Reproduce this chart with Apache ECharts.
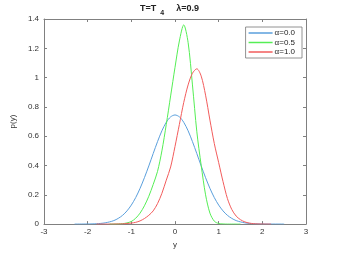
<!DOCTYPE html>
<html><head><meta charset="utf-8">
<script src="https://cdn.jsdelivr.net/npm/echarts@6/dist/echarts.min.js"></script>
<style>html,body{margin:0;padding:0;background:#fff}#c{width:339px;height:254px}</style>
</head><body><div id="c"></div>
<script>
var seriesNames = ['α=0.0', 'α=0.5', 'α=1.0'];
var xTicks = [-3, -2, -1, 0, 1, 2, 3];
var yTicks = [0, 0.2, 0.4, 0.6, 0.8, 1, 1.2, 1.4];

var blueX = [-2.3,-2.0,-1.9,-1.8,-1.7,-1.6,-1.5,-1.4,-1.3,-1.2,-1.1,-1.0,-0.9,-0.8,-0.7,-0.6,-0.5,-0.4,-0.3,-0.2,-0.1,0,
  0.1,0.2,0.3,0.4,0.5,0.6,0.7,0.8,0.9,1.0,1.1,1.2,1.3,1.4,1.5,1.6,1.7,1.8,1.9,2.0,2.5];
var blueY = [0,0.0007,0.0014,0.0026,0.0048,0.0085,0.015,0.024,0.039,0.060,0.090,0.130,0.181,0.244,0.317,0.397,0.481,0.563,0.637,0.695,0.732,0.745,
  0.732,0.695,0.637,0.563,0.481,0.397,0.317,0.244,0.181,0.130,0.090,0.060,0.039,0.024,0.015,0.0085,0.0048,0.0026,0.0014,0.0007,0];

var greenX = [-1.5,-1.4,-1.3,-1.2,-1.1,-1.0,-0.9,-0.8,-0.7,-0.6,-0.5,-0.4,-0.3,-0.2,-0.1,0,
  0.1,0.2,0.3,0.4,0.5,0.6,0.7,0.8,0.9,1.0,1.1,1.2,1.3,1.4,1.5];
var greenY = [0,0,0.001,0.003,0.008,0.018,0.04,0.075,0.125,0.19,0.27,0.36,0.50,0.68,0.875,1.07,
  1.25,1.36,1.24,0.95,0.63,0.40,0.20,0.075,0.02,0.004,0.001,0,0,0,0];

var redX = [-1.8,-1.7,-1.6,-1.5,-1.4,-1.3,-1.2,-1.1,-1.0,-0.9,-0.8,-0.7,-0.6,-0.5,-0.4,-0.3,-0.2,-0.1,0,
  0.1,0.2,0.3,0.4,0.5,0.6,0.7,0.8,0.9,1.0,1.1,1.2,1.3,1.4,1.5,1.6,1.7,1.8,1.9,2.0,2.1,2.2];
var redY = [0,0,0,0,0.0005,0.001,0.002,0.004,0.007,0.012,0.022,0.038,0.06,0.09,0.14,0.21,0.30,0.39,0.53,
  0.68,0.83,0.95,1.03,1.06,1.01,0.88,0.71,0.55,0.42,0.29,0.175,0.10,0.055,0.03,0.015,0.007,0.003,0.001,0.0005,0,0];

var colors = ['#5a9fdc', '#55ee55', '#f25c5c'];

function pairs(xs, ys) { return xs.map(function (x, i) { return [x, ys[i]]; }); }

var axisCol = '#808080';
var txtCol = '#333';
var font = 'Liberation Sans, Arial, sans-serif';

var chart = echarts.init(document.getElementById('c'), null, {renderer: 'canvas'});
chart.setOption({
  animation: false,
  textStyle: {fontFamily: font},
  title: {
    text: '{a|T=T}{s|4}{a|λ=0.9}',
    left: 'center', top: 0, padding: 0,
    textStyle: {
      rich: {
        a: {fontSize: 9, fontWeight: 'bold', color: '#222', fontFamily: font},
        s: {fontSize: 7, fontWeight: 'bold', color: '#222', fontFamily: font, padding: [10, 12, 0, 4]}
      }
    }
  },
  grid: {left: 44, right: 33, top: 19, bottom: 28, containLabel: false},
  legend: {
    orient: 'vertical', right: 37, top: 27,
    data: seriesNames,
    icon: 'rect', itemWidth: 24, itemHeight: 1.5, itemGap: 0.5,
    backgroundColor: '#fff', borderColor: '#777', borderWidth: 0.8, borderRadius: 0,
    padding: [1.5, 7, 1.5, 3],
    textStyle: {fontSize: 8, color: '#222', fontFamily: font, padding: [0, 0, 0, -3], lineHeight: 9}
  },
  xAxis: [{
    type: 'value', min: -3, max: 3, interval: 1,
    name: 'y', nameLocation: 'middle', nameGap: 15,
    nameTextStyle: {fontSize: 8, color: txtCol},
    axisLine: {show: true, onZero: false, lineStyle: {color: axisCol, width: 1}},
    axisTick: {show: true, inside: true, length: 3, lineStyle: {color: axisCol}},
    axisLabel: {fontSize: 8, color: txtCol, margin: 4,
      formatter: function (v) { return xTicks.indexOf(v) >= 0 ? String(v) : ''; }},
    splitLine: {show: false}
  }, {
    type: 'value', min: -3, max: 3, interval: 1, position: 'top',
    axisLine: {show: true, onZero: false, lineStyle: {color: axisCol, width: 1}},
    axisTick: {show: true, inside: true, length: 3, lineStyle: {color: axisCol}},
    axisLabel: {show: false}, splitLine: {show: false}
  }],
  yAxis: [{
    type: 'value', min: 0, max: 1.4, interval: 0.2,
    name: 'p(y)', nameLocation: 'middle', nameGap: 19, nameRotate: 90,
    nameTextStyle: {fontSize: 8, color: txtCol},
    axisLine: {show: true, onZero: false, lineStyle: {color: axisCol, width: 1}},
    axisTick: {show: true, inside: true, length: 3, lineStyle: {color: axisCol}},
    axisLabel: {fontSize: 8, color: txtCol, margin: 5,
      formatter: function (v) { var r = Math.round(v * 10) / 10; return yTicks.indexOf(r) >= 0 ? String(r) : ''; }},
    splitLine: {show: false}
  }, {
    type: 'value', min: 0, max: 1.4, interval: 0.2, position: 'right',
    axisLine: {show: true, onZero: false, lineStyle: {color: axisCol, width: 1}},
    axisTick: {show: true, inside: true, length: 3, lineStyle: {color: axisCol}},
    axisLabel: {show: false}, splitLine: {show: false}
  }],
  series: [
    {name: seriesNames[0], type: 'line', data: pairs(blueX, blueY), showSymbol: false, smooth: 0.3,
      lineStyle: {color: colors[0], width: 1}, itemStyle: {color: colors[0]}},
    {name: seriesNames[1], type: 'line', data: pairs(greenX, greenY), showSymbol: false, smooth: 0.3,
      lineStyle: {color: colors[1], width: 1}, itemStyle: {color: colors[1]}},
    {name: seriesNames[2], type: 'line', data: pairs(redX, redY), showSymbol: false, smooth: 0.3,
      lineStyle: {color: colors[2], width: 1}, itemStyle: {color: colors[2]}}
  ]
});
</script></body></html>
